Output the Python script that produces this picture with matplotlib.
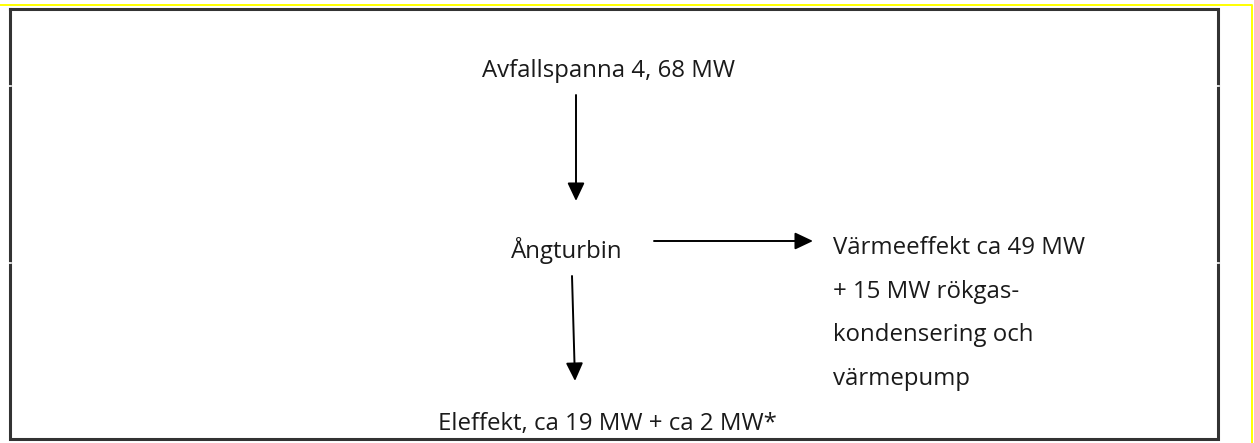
"""Flow diagram: Avfallspanna 4 -> Ångturbin -> värme / el."""

import matplotlib.pyplot as plt

# diagram text
source_label = 'Avfallspanna 4, 68 MW'
turbine_label = 'Ångturbin'
power_label = 'Eleffekt, ca 19 MW + ca 2 MW*'
heat_lines = ['Värmeeffekt ca 49 MW', '+ 15 MW rökgas-', 'kondensering och', 'värmepump']

plt.rcParams['font.family'] = ['Open Sans', 'DejaVu Sans']

fig = plt.figure(figsize=(12.54, 4.43), dpi=100)
ax = fig.add_axes([0, 0, 1, 1])
ax.set_xlim(0, 1254)
ax.set_ylim(443, 0)  # pixel-like coordinates, y downwards
ax.axis('off')

# yellow page edge (top and right)
ax.plot([0, 1252, 1252], [5, 5, 443], color='#ffff00', linewidth=1.4)

# black frame round the diagram
ax.plot([10, 1218, 1218, 10, 10], [9, 9, 439, 439, 9], color='#333333', linewidth=2.2,
        solid_joinstyle='miter')
# small breaks in the frame sides
for yb in [86, 263]:
    ax.plot([9, 11], [yb, yb], color='white', linewidth=1.2)
    ax.plot([1217, 1219], [yb, yb], color='white', linewidth=1.2)

fs = 17.3
tc = '#1a1a1a'
ax.text(608, 77, source_label, fontsize=fs, ha='center', va='baseline', color=tc)
ax.text(567, 258, turbine_label, fontsize=fs, ha='center', va='baseline', color=tc)
ax.text(607, 430, power_label, fontsize=fs, ha='center', va='baseline', color=tc)
for i, line in enumerate(heat_lines):
    ax.text(833, 254 + i * 43.7, line, fontsize=fs, ha='left', va='baseline', color=tc)

arrow_style = dict(arrowstyle='-|>,head_length=0.55,head_width=0.26', color='black',
                   linewidth=1.4, mutation_scale=20, shrinkA=0, shrinkB=0)
ax.annotate('', xy=(576, 201), xytext=(576, 95), arrowprops=arrow_style)
ax.annotate('', xy=(813, 241), xytext=(654, 241), arrowprops=arrow_style)
ax.annotate('', xy=(575, 381), xytext=(572, 276), arrowprops=arrow_style)

fig.savefig('out.png', dpi=100)
